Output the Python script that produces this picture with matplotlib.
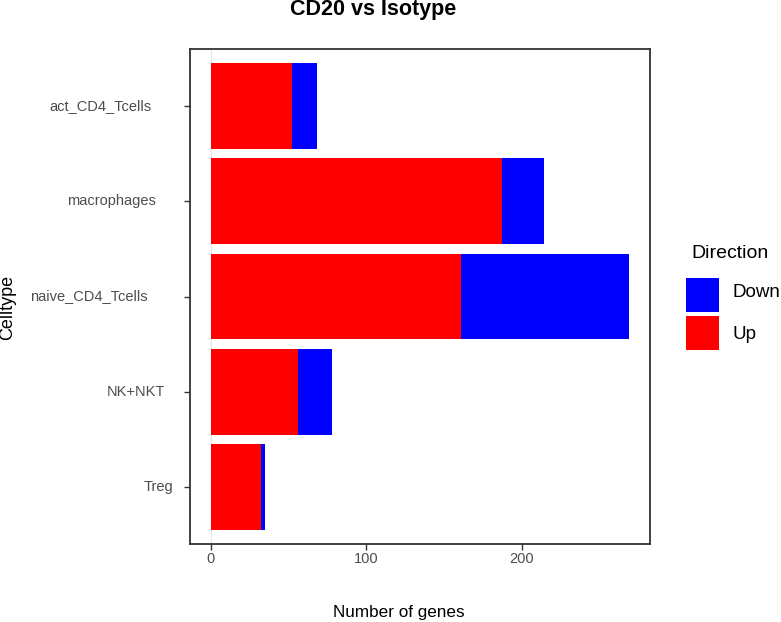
import matplotlib
matplotlib.use('Agg')
import matplotlib.pyplot as plt
from matplotlib.patches import Rectangle

# ── Data ─────────────────────────────────────────────────────
celltypes = ['act_CD4_Tcells', 'macrophages', 'naive_CD4_Tcells', 'NK+NKT', 'Treg']
up_genes = [52, 187, 161, 56, 32]
down_genes = [16, 27, 108, 22, 3]
directions = ['Down', 'Up']
x_ticks = [0, 100, 200]

COL_UP = '#FF0000'
COL_DOWN = '#0000FF'
DARK = '#333333'
GREY_TXT = '#4D4D4D'

W, H = 781, 622
plt.rcParams['font.family'] = ['Liberation Sans', 'DejaVu Sans']

fig = plt.figure(figsize=(W / 100, H / 100), dpi=100)
ax = fig.add_axes([190 / W, 1 - 544 / H, 460 / W, 495 / H])

pos = list(range(len(celltypes)))
bars_up = ax.barh(pos, up_genes, height=0.9, color=COL_UP, linewidth=0)
bars_down = ax.barh(pos, down_genes, left=up_genes, height=0.9,
                    color=COL_DOWN, linewidth=0)
ax.axvline(0, color='#E8E8E8', lw=0.8, zorder=0)

# ggplot-like expansion
total_max = max(u + d for u, d in zip(up_genes, down_genes))
xpad = 0.05 * total_max
ax.set_xlim(-xpad, total_max + xpad)
ax.set_ylim(len(celltypes) - 0.4, -0.6)

ax.set_xticks(x_ticks)
ax.set_yticks(pos)
ax.tick_params(axis='y', labelleft=False, length=4.3, width=1, color=DARK)
ax.tick_params(axis='x', length=4, width=1, color=DARK, labelcolor=GREY_TXT,
               labelsize=10.5, pad=2)
for sp in ax.spines.values():
    sp.set_color(DARK)
    sp.set_linewidth(1.3)

# y tick labels (slightly pushed left, as in the reference)
ylabels = []
for i, name in enumerate(celltypes):
    t = ax.annotate(name, xy=(0, i), xycoords=ax.get_yaxis_transform(),
                    xytext=(-7.5, 0), textcoords='offset pixels',
                    ha='right', va='center', fontsize=10.5, color=GREY_TXT,
                    annotation_clip=False)
    ylabels.append(t)

fig.canvas.draw()
rend = fig.canvas.get_renderer()
for t in ylabels:
    w = t.get_window_extent(rend).width
    t.xyann = (-7.5 - 0.3 * w, 0)

# titles
fig.text(290 / W, 1 - 15.5 / H, 'CD20 vs Isotype', ha='left', va='baseline',
         fontsize=15.5, fontweight='bold', color='black')
fig.text(333 / W, 1 - 617 / H, 'Number of genes', ha='left', va='baseline',
         fontsize=12.3, color='black')
fig.text(7.5 / W, 1 - 307.5 / H, 'Celltype', rotation=90, ha='center',
         va='center', fontsize=13, color='black')

# legend (drawn by hand to match key size / spacing)
fig.text(691 / W, 1 - 258.3 / H, 'Direction', ha='left', va='baseline',
         fontsize=14, color='black')
key_colors = {'Down': bars_down.patches[0].get_facecolor(),
              'Up': bars_up.patches[0].get_facecolor()}
key_tops = [278.3, 316]
txt_base = [296.7, 339.3]
for lab, top, base in zip(directions, key_tops, txt_base):
    fig.add_artist(Rectangle((685.7 / W, 1 - (top + 34) / H), 33.3 / W, 34 / H,
                             transform=fig.transFigure,
                             facecolor=key_colors[lab], edgecolor='none'))
    fig.text(732.5 / W, 1 - base / H, lab, ha='left', va='baseline',
             fontsize=13.5, color='black')

plt.savefig('out.png', dpi=100, facecolor='white')
plt.close()
